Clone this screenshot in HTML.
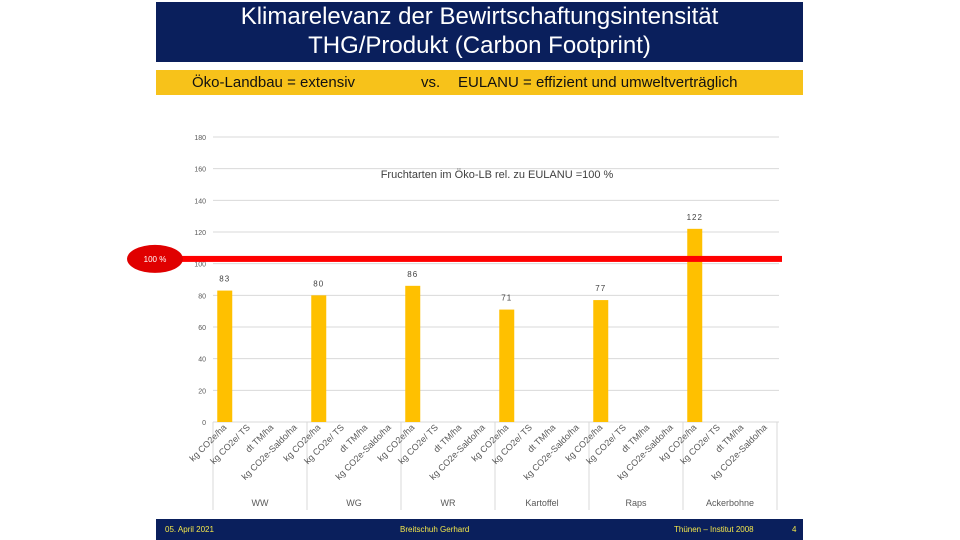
<!DOCTYPE html>
<html><head><meta charset="utf-8"><style>
body{margin:0;width:960px;height:540px;background:#fff;overflow:hidden;font-family:"Liberation Sans",sans-serif;position:relative}
.abs{position:absolute}
</style></head><body>
<div class="abs" style="left:156px;top:2px;width:647px;height:60px;background:#0a1f5c;color:#fff;text-align:center;font-size:24px;line-height:29px">Klimarelevanz der Bewirtschaftungsintensität<br>THG/Produkt (Carbon Footprint)</div>
<div class="abs" style="left:156px;top:70px;width:647px;height:25px;background:#f7c21a;font-size:15px;line-height:26px;color:#111">
<span class="abs" style="left:36px">Öko-Landbau = extensiv</span><span class="abs" style="left:265px">vs.</span><span class="abs" style="left:302px">EULANU = effizient und umweltverträglich</span></div>
<svg class="abs" style="left:0;top:0" width="960" height="540" id="svg"></svg>
<div class="abs" style="left:156px;top:519px;width:647px;height:21px;background:#0a1f5c;color:#f5e84a;font-size:8px;line-height:21px">
<span class="abs" style="left:9px">05. April 2021</span><span class="abs" style="left:244px">Breitschuh Gerhard</span><span class="abs" style="left:518px">Thünen – Institut 2008</span><span class="abs" style="left:636px">4</span></div>
<script>
const groups=["WW","WG","WR","Kartoffel","Raps","Ackerbohne"];
const subs=["kg CO2e/ha","kg CO2e/ TS","dt TM/ha","kg CO2e-Saldo/ha"];
const values=[83,80,86,71,77,122];
const yTicks=[0,20,40,60,80,100,120,140,160,180];
const refValue=103;
const svg=document.getElementById('svg');const NS='http://www.w3.org/2000/svg';
const x0=213,x1=777,yb=422,yt=137;
const y=v=>yb-(v/180)*(yb-yt);
const slotW=(x1-x0)/(groups.length*4);
function mk(t,a,txt){const e=document.createElementNS(NS,t);for(const k in a)e.setAttribute(k,a[k]);if(txt!=null)e.textContent=txt;svg.appendChild(e);return e;}
yTicks.forEach(v=>{
const g=mk('line',{x1:x0,x2:779,y1:y(v),y2:y(v),stroke:'#d9d9d9','stroke-width':1});


const t=mk('text',{x:206,y:y(v)+3,'text-anchor':'end','font-size':7,fill:'#595959'},v);


});
for(let i=0;i<=groups.length;i++){const xx=x0+i*slotW*4;
const l=mk('line',{x1:xx,x2:xx,y1:yb,y2:510,stroke:'#d9d9d9'});

}
groups.forEach((gname,gi)=>{
const gx=x0+gi*slotW*4;
const cx=gx+slotW*0.5;
const b=mk('rect',{x:cx-7.5,y:y(values[gi]),width:15,height:yb-y(values[gi]),fill:'#ffc000'});


const vl=mk('text',{x:cx,y:y(values[gi])-9,'text-anchor':'middle','font-size':8,fill:'#404040','letter-spacing':'1'},values[gi]);


subs.forEach((s,si)=>{const sx=gx+slotW*(si+0.6);
const t=mk('text',{x:sx,y:428,'text-anchor':'end','font-size':9,fill:'#595959',transform:`rotate(-45 ${sx} 428)`},s);

});
const gl=mk('text',{x:gx+slotW*2,y:506,'text-anchor':'middle','font-size':9,fill:'#595959'},gname);


});
const rl=mk('rect',{x:170,y:y(refValue)-3,width:612,height:6,fill:'#ff0000'});


const el=mk('ellipse',{cx:155,cy:y(refValue),rx:28,ry:14,fill:'#e00000'});


const et=mk('text',{x:155,y:y(refValue)+3,'text-anchor':'middle','font-size':8,fill:'#fff'},'100 %');


const ct=mk('text',{x:497,y:178,'text-anchor':'middle','font-size':11,fill:'#404040'},'Fruchtarten im Öko-LB rel. zu EULANU =100 %');


</script>
</body></html>
